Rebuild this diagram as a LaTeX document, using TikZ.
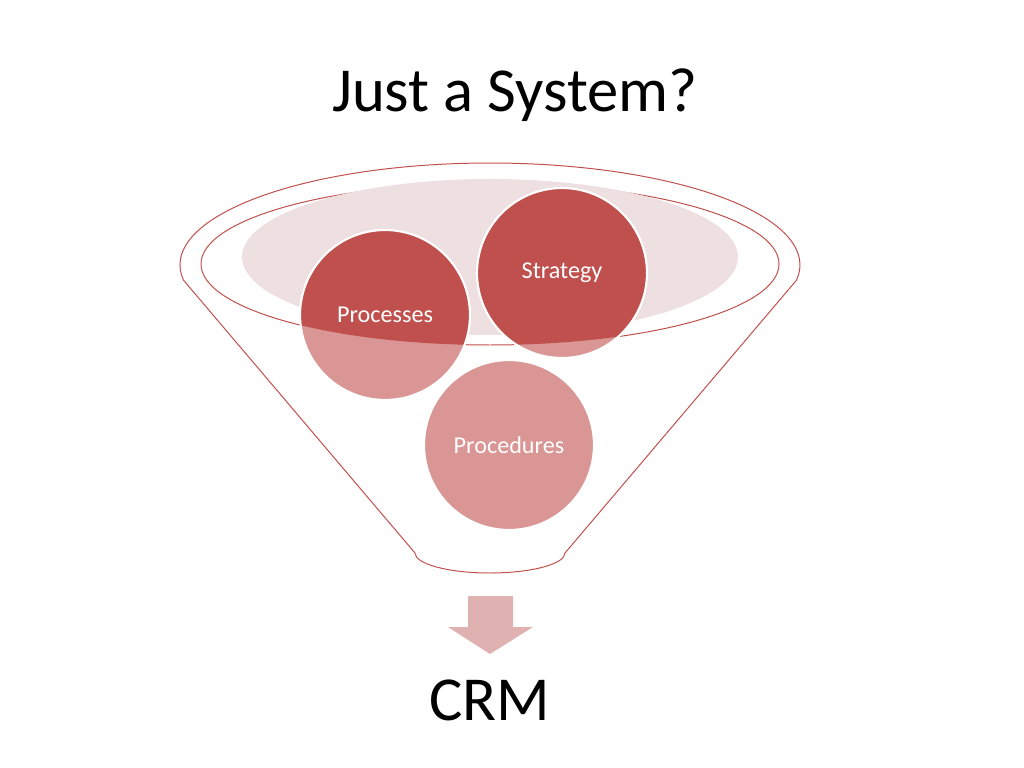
\documentclass[tikz,border=0pt]{standalone}
\usepackage{fontspec}
\setmainfont{Carlito}
\definecolor{crmdark}{HTML}{C0504D}
\definecolor{crmlight}{HTML}{D99694}
\definecolor{crmrim}{HTML}{EEDFE0}
\definecolor{crmarrow}{HTML}{DFB2B1}
\begin{document}
\begin{tikzpicture}[x=0.703125pt,y=-0.703125pt,
	funnel/.style={draw=crmdark,line width=0.7pt},
	ball/.style={circle,draw=white,line width=1.5pt,fill=crmlight,minimum size=119.5pt,inner sep=0pt,
		text=white,font=\fontsize{17}{20}\selectfont,
		path picture={\fill[crmdark] (rim) ellipse [x radius=289, y radius=81];}}]
	\useasboundingbox (0,0) rectangle (1024,768);

	\node[anchor=base,font=\fontsize{44}{53}\selectfont] (title) at (515,112) {Just a System?};

% funnel outline
\coordinate (rim) at (490,264);
\draw[funnel] (490,265) ++(171.5:310 and 102) arc[start angle=171.5, end angle=368.5, x radius=310, y radius=102]
	-- (565,553) arc[start angle=0, end angle=180, x radius=75, y radius=20] -- cycle;
\draw[funnel] (rim) ellipse [x radius=289, y radius=81];
\fill[crmrim] (490,257) ellipse [x radius=248, y radius=78];

	\node[ball] (processes) at (385,315) {Processes};
	\node[ball] (strategy) at (562,273) {Strategy};
	\node[ball] (procedures) at (509,445) {Procedures};

\fill[crmarrow] (468,596) -- (513,596) -- (513,627) -- (533,627) -- (490,654) -- (448,627) -- (468,627) -- cycle;
	\node[anchor=base,font=\fontsize{44}{53}\selectfont] (crm) at (490,720) {CRM};
\end{tikzpicture}
\end{document}
